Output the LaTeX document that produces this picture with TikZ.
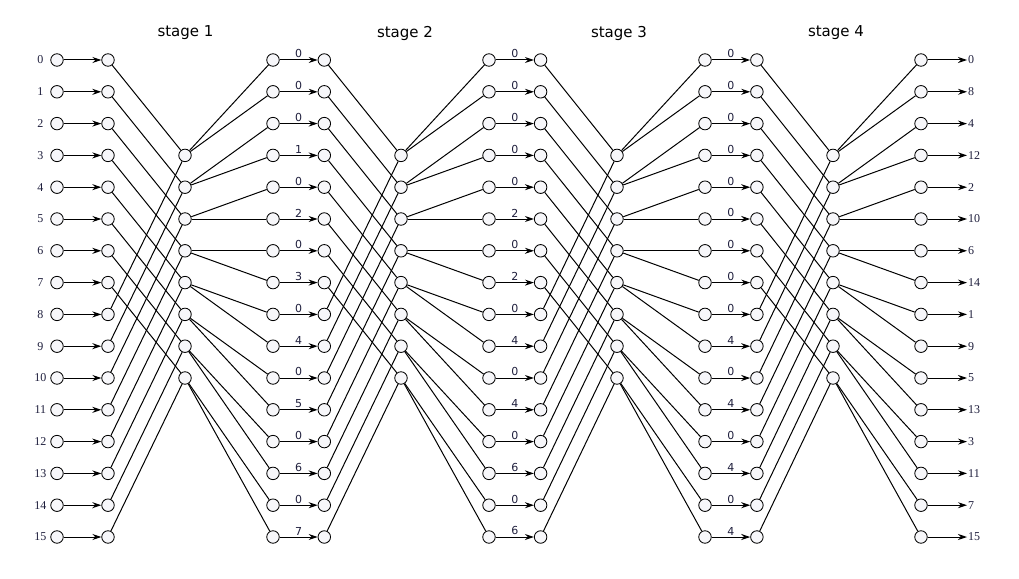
\documentclass[tikz,border=0pt]{standalone}
\usepackage{fontspec}
\setmainfont{Liberation Serif}
\newfontfamily\sansf{DejaVu Sans}
\usetikzlibrary{arrows.meta}
\definecolor{dotfill}{HTML}{F7F7FA}
\definecolor{lblcol}{HTML}{1E1E3C}
\begin{document}
\begin{tikzpicture}[x=1pt,y=-1pt,
  dot/.style={circle,draw,fill=dotfill,minimum size=12.5pt,inner sep=0pt,line width=0.85pt},
  wire/.style={line width=1pt},
  arr/.style={wire,-{Stealth[length=9pt,width=6pt]}},
  numlbl/.style={font=\fontsize{12}{12}\selectfont,text=lblcol,inner sep=1pt},
  tw/.style={font=\sansf\fontsize{11}{11}\selectfont,text=lblcol,inner sep=1.5pt},
  title/.style={font=\sansf\fontsize{15}{15}\selectfont,inner sep=0pt}]
\useasboundingbox (0,0) rectangle (1019,578);
% titles
\foreach \s/\xt in {1/185.5,2/405,3/619,4/836}{
  \node[title] (title\s) at (\xt,33) {stage \s};
}
% column nodes
\foreach \i in {0,...,15}{
  \pgfmathsetmacro\y{60+31.8*\i}
  \node[dot] (in-\i) at (57,\y) {};
  \node[numlbl] (inl-\i) at (40.3,\y) {\i};
  \foreach \s in {1,...,4}{
    \pgfmathsetmacro\xa{108+216.3*(\s-1)}
    \pgfmathsetmacro\xb{273+216*(\s-1)}
    \node[dot] (a\s-\i) at (\xa,\y) {};
    \node[dot] (b\s-\i) at (\xb,\y) {};
  }
}
% middle nodes
\foreach \s in {1,...,4}{
  \pgfmathsetmacro\xm{185+216*(\s-1)}
  \foreach \k in {0,...,7}{
    \pgfmathsetmacro\y{60+31.8*(\k+3)}
    \node[dot] (m\s-\k) at (\xm,\y) {};
  }
}
% input arrows
\foreach \i in {0,...,15}{
  \draw[arr] (in-\i) -- (a1-\i);
}
% butterfly wires
\foreach \s in {1,...,4}{
  \foreach \k in {0,...,7}{
    \pgfmathtruncatemacro\kk{\k+8}
    \pgfmathtruncatemacro\ea{2*\k}
    \pgfmathtruncatemacro\eb{2*\k+1}
    \draw[wire] (a\s-\k) -- (m\s-\k);
    \draw[wire] (a\s-\kk) -- (m\s-\k);
    \draw[wire] (m\s-\k) -- (b\s-\ea);
    \draw[wire] (m\s-\k) -- (b\s-\eb);
  }
}
% twiddle arrows
\foreach \s in {1,2,3}{
  \pgfmathtruncatemacro\t{\s+1}
  \foreach \i in {0,...,15}{
    \pgfmathtruncatemacro\w{mod(\i,2)==1 ? 2^(\s-1)*floor(\i/(2^\s)) : 0}
    \draw[arr] (b\s-\i) -- (a\t-\i) node[midway,above,tw] {\w};
  }
}
% outputs
\foreach \i/\o in {0/0,1/8,2/4,3/12,4/2,5/10,6/6,7/14,8/1,9/9,10/5,11/13,12/3,13/11,14/7,15/15}{
  \pgfmathsetmacro\y{60+31.8*\i}
  \node[numlbl,anchor=west] (out-\i) at (967,\y) {\o};
  \draw[arr] (b4-\i) -- (out-\i.west);
}
\end{tikzpicture}
\end{document}
